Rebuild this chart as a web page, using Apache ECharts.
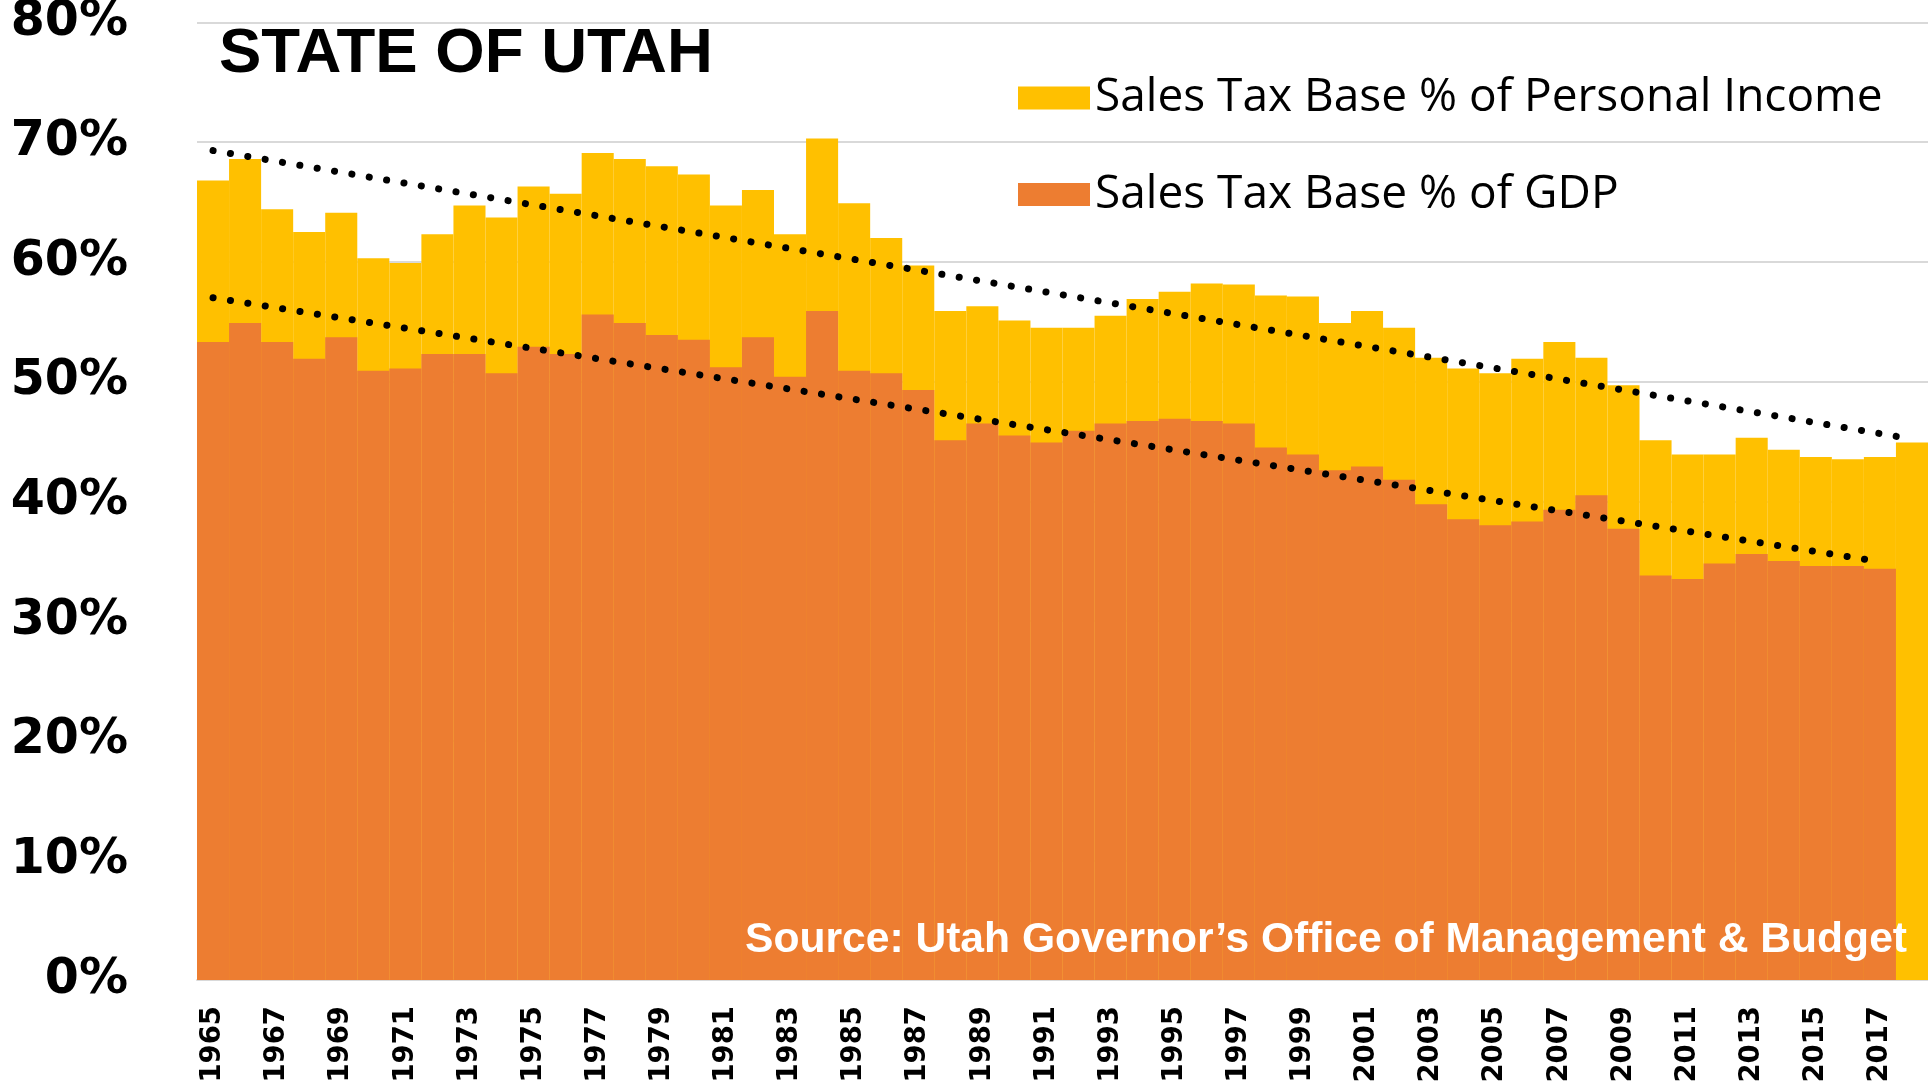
<!DOCTYPE html>
<html>
<head>
<meta charset="utf-8">
<title>State of Utah - Sales Tax Base</title>
<script src="https://cdn.jsdelivr.net/npm/echarts@6.0.0/dist/echarts.min.js"></script>
<style>
  html, body { margin: 0; padding: 0; background: #fff; }
  #chart { width: 1928px; height: 1087px; }
</style>
</head>
<body>
<div id="chart"></div>
<script>
// x axis categories
var years = ['1965', '1966', '1967', '1968', '1969', '1970', '1971', '1972', '1973', '1974',
  '1975', '1976', '1977', '1978', '1979', '1980', '1981', '1982', '1983', '1984',
  '1985', '1986', '1987', '1988', '1989', '1990', '1991', '1992', '1993', '1994',
  '1995', '1996', '1997', '1998', '1999', '2000', '2001', '2002', '2003', '2004',
  '2005', '2006', '2007', '2008', '2009', '2010', '2011', '2012', '2013', '2014',
  '2015', '2016', '2017', '2018'];

// sales tax base as % of personal income (yellow)
var pctPersonalIncome = [66.8, 68.6, 64.4, 62.5, 64.1, 60.3, 59.9, 62.3, 64.7, 63.7,
  66.3, 65.7, 69.1, 68.6, 68.0, 67.3, 64.7, 66.0, 62.3, 70.3,
  64.9, 62.0, 59.7, 55.9, 56.3, 55.1, 54.5, 54.5, 55.5, 56.9,
  57.5, 58.2, 58.1, 57.2, 57.1, 54.9, 55.9, 54.5, 52.0, 51.1,
  50.7, 51.9, 53.3, 52.0, 49.7, 45.1, 43.9, 43.9, 45.3, 44.3,
  43.7, 43.5, 43.7, 44.9];

// sales tax base as % of GDP (orange), no 2018 value
var pctGdp = [53.3, 54.9, 53.3, 51.9, 53.7, 50.9, 51.1, 52.3, 52.3, 50.7,
  52.9, 52.3, 55.6, 54.9, 53.9, 53.5, 51.2, 53.7, 50.4, 55.9,
  50.9, 50.7, 49.3, 45.1, 46.5, 45.5, 44.9, 45.9, 46.5, 46.7,
  46.9, 46.7, 46.5, 44.5, 43.9, 42.6, 42.9, 41.8, 39.75, 38.5,
  38.0, 38.3, 39.3, 40.5, 37.7, 33.8, 33.5, 34.8, 35.6, 35.0,
  34.6, 34.6, 34.35, null];

// dotted trend lines, end points
var trendPiYears = ['1965', '2018'];
var trendPiValues = [69.3, 45.2];
var trendGdpYears = ['1965', '2017'];
var trendGdpValues = [57.0, 34.95];

var yTicks = [0, 10, 20, 30, 40, 50, 60, 70, 80];

function pairs(xs, ys) {
  var out = [];
  for (var i = 0; i < xs.length; i++) out.push([xs[i], ys[i]]);
  return out;
}

var trendStyle = {
  color: '#000',
  width: 7,
  type: [0.1, 17.5],
  cap: 'round'
};

var legendText = { fontFamily: 'Open Sans', fontSize: 46, color: '#000', lineHeight: 46 };

var chart = echarts.init(document.getElementById('chart'));

var options = {
  backgroundColor: '#fff',
  animation: false,
  grid: {
    left: 197,
    right: 0,
    top: 22.5,
    bottom: 107,
    outerBoundsMode: 'none'
  },
  legend: [
    {
      data: ['Sales Tax Base % of Personal Income'],
      left: 1018,
      top: 75,
      padding: 0,
      icon: 'rect',
      itemWidth: 72,
      itemHeight: 23,
      textStyle: legendText
    },
    {
      data: ['Sales Tax Base % of GDP'],
      left: 1018,
      top: 171.5,
      padding: 0,
      icon: 'rect',
      itemWidth: 72,
      itemHeight: 23,
      textStyle: legendText
    }
  ],
  xAxis: {
    type: 'category',
    data: years,
    boundaryGap: true,
    axisLine: { lineStyle: { color: '#d9d9d9', width: 2 } },
    axisTick: { show: false },
    axisLabel: {
      interval: 1,
      rotate: 90,
      margin: 26,
      color: '#000',
      fontFamily: 'DejaVu Sans',
      fontWeight: 'bold',
      fontSize: 27.5
    },
    splitLine: { show: false }
  },
  yAxis: {
    type: 'value',
    min: yTicks[0],
    max: yTicks[yTicks.length - 1],
    interval: 10,
    axisLine: { show: false },
    axisTick: { show: false },
    axisLabel: {
      margin: 69,
      color: '#000',
      fontFamily: 'DejaVu Sans',
      fontWeight: 'bold',
      fontSize: 49,
      formatter: '{value}%'
    },
    splitLine: { lineStyle: { color: '#d9d9d9', width: 2 } }
  },
  series: [
    {
      name: 'Sales Tax Base % of Personal Income',
      type: 'bar',
      data: pctPersonalIncome,
      barCategoryGap: 0,
      barGap: '-100%',
      itemStyle: { color: '#FFC000' },
      z: 2
    },
    {
      name: 'Sales Tax Base % of GDP',
      type: 'bar',
      data: pctGdp,
      barCategoryGap: 0,
      barGap: '-100%',
      itemStyle: { color: '#ED7D31' },
      z: 3
    },
    {
      name: 'trend PI',
      type: 'line',
      data: pairs(trendPiYears, trendPiValues),
      symbol: 'none',
      lineStyle: trendStyle,
      z: 5
    },
    {
      name: 'trend GDP',
      type: 'line',
      data: pairs(trendGdpYears, trendGdpValues),
      symbol: 'none',
      lineStyle: trendStyle,
      z: 5
    }
  ],
  graphic: [
    {
      type: 'text',
      z: 10,
      style: {
        x: 219,
        y: 54,
        text: 'STATE OF UTAH',
        fill: '#000',
        font: 'bold 63.5px "Liberation Sans", Arial, sans-serif',
        verticalAlign: 'middle'
      }
    },
    {
      type: 'text',
      z: 10,
      style: {
        x: 1907,
        y: 940,
        text: 'Source: Utah Governor\u2019s Office of Management & Budget',
        fill: '#fff',
        font: 'bold 42.6px "Liberation Sans", Arial, sans-serif',
        align: 'right',
        verticalAlign: 'middle'
      }
    }
  ]
};

chart.setOption(options);
</script>
</body>
</html>
